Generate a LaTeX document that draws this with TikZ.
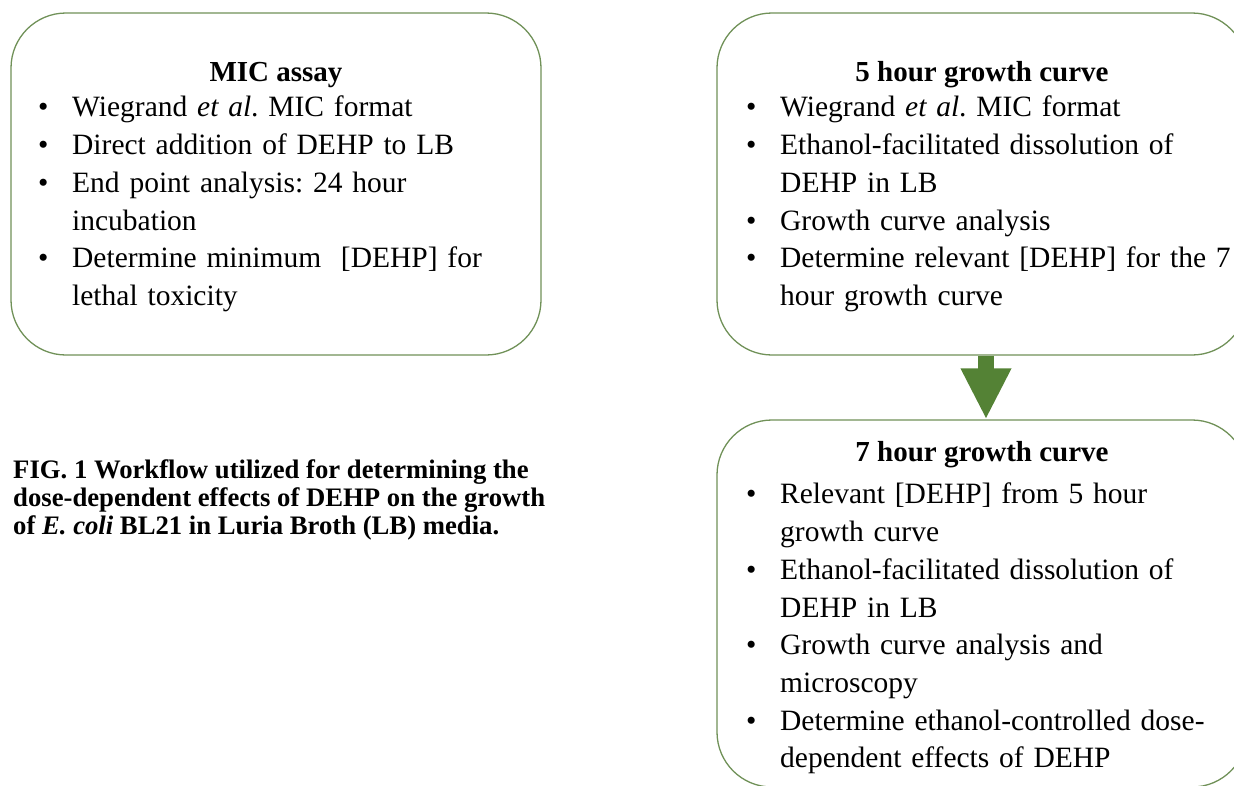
\documentclass[tikz,border=0pt]{standalone}
\usepackage{fontspec}
\setmainfont{Liberation Serif}
\usepackage{xcolor}
\usetikzlibrary{arrows.meta}
\definecolor{boxgreen}{RGB}{112,145,88}
\definecolor{arrgreen}{RGB}{84,130,53}
\frenchspacing
\newcommand{\bitem}[1]{\noindent\hangindent=34pt\hangafter=1\makebox[34pt][l]{\textbullet}#1\par}
\newcommand{\brk}{\hfil\break}
\tikzset{
  stepbox/.style  = {draw=boxgreen,line width=1.3pt,rounded corners=55pt,inner sep=0pt},
  flowarr/.style  = {-{Triangle[length=51pt,width=47pt]},arrgreen,line width=16pt},
  boxtitle/.style = {font=\fontsize{29}{37.7}\selectfont\bfseries,inner sep=0pt,anchor=base},
  boxlist/.style  = {font=\fontsize{29.5}{37.7}\selectfont,text width=540pt,
                     align=left,inner sep=0pt,anchor=north west}
}

\begin{document}
\begin{tikzpicture}[x=1pt,y=-1pt]
  \path[use as bounding box,clip] (0,0) rectangle (1234,785);
  % the three steps
  \node[stepbox,minimum width=530pt,minimum height=342pt] (mic) at (276,184) {};
  \node[stepbox,minimum width=530pt,minimum height=342pt] (fivehr) at (982,184) {};
  \node[stepbox,minimum width=530pt,minimum height=367pt] (sevenhr) at (982,603.5) {};
  \draw[flowarr] ([xshift=4pt]fivehr.south) -- ([xshift=4pt]sevenhr.north);
  % MIC assay
  \node[boxtitle] (mictitle) at (276,81) {MIC assay};
  \node[boxlist] (miclist) at (38,96) {%
    \bitem{Wiegrand \textit{et al}. MIC format}
    \bitem{Direct addition of DEHP to LB}
    \bitem{End point analysis: 24 hour\brk incubation}
    \bitem{Determine minimum \ [DEHP] for\brk lethal toxicity}};
  % 5 hour growth curve
  \node[boxtitle] (fivetitle) at (982,81) {5 hour growth curve};
  \node[boxlist] (fivelist) at (746,96) {%
    \bitem{Wiegrand \textit{et al}. MIC format}
    \bitem{Ethanol-facilitated dissolution of\brk DEHP in LB}
    \bitem{Growth curve analysis}
    \bitem{Determine relevant [DEHP] for the 7\brk hour growth curve}};
  % 7 hour growth curve
  \node[boxtitle] (seventitle) at (982,461) {7 hour growth curve};
  \node[boxlist] (sevenlist) at (746,483) {%
    \bitem{Relevant [DEHP] from 5 hour\brk growth curve}
    \bitem{Ethanol-facilitated dissolution of\brk DEHP in LB}
    \bitem{Growth curve analysis and\brk microscopy}
    \bitem{Determine ethanol-controlled dose-\brk dependent effects of DEHP}};
  % caption
  \node[anchor=north west,inner sep=0pt,align=left,
        font=\fontsize{26.7}{28}\selectfont\bfseries] (caption) at (13,459)
    {FIG. 1 Workflow utilized for determining the\\
     dose-dependent effects of DEHP on the growth\\
     of \textit{E. coli} BL21 in Luria Broth (LB) media.};
\end{tikzpicture}
\end{document}
